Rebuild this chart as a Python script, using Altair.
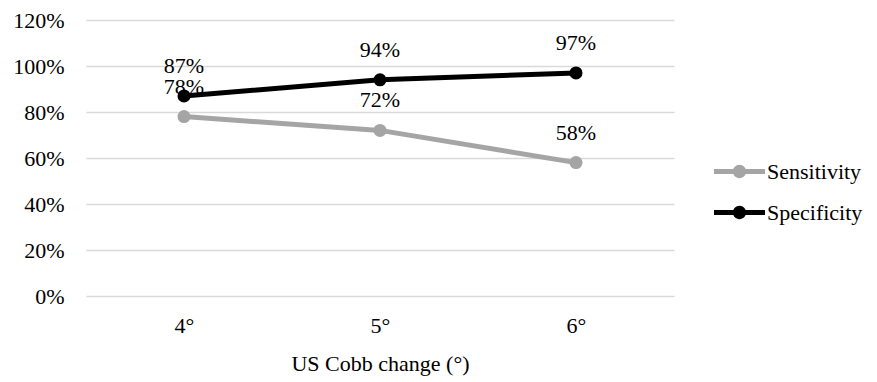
import altair as alt
import pandas as pd

# Cobb angle change thresholds and diagnostic performance
thresholds = ["4°", "5°", "6°"]
sensitivity = [0.78, 0.72, 0.58]
specificity = [0.87, 0.94, 0.97]
series_names = ["Sensitivity", "Specificity"]
series_colors = ["#A5A5A5", "#000000"]

rows = []
for name, values in zip(series_names, [sensitivity, specificity]):
    for t, v in zip(thresholds, values):
        rows.append({"threshold": t, "value": v, "series": name})
df = pd.DataFrame(rows)

FONT = "'Liberation Serif', 'Times New Roman', Times, serif"
FS = 22

x = alt.X(
    "threshold:N",
    sort=thresholds,
    scale=alt.Scale(type="point", padding=0.5),
    axis=alt.Axis(
        title="US Cobb change (°)",
        labelAngle=0,
        domain=False,
        ticks=False,
        grid=False,
        labelPadding=19,
        titlePadding=17,
    ),
)
y = alt.Y(
    "value:Q",
    scale=alt.Scale(domain=[0, 1.2]),
    axis=alt.Axis(
        title=None,
        format=".0%",
        values=[0, 0.2, 0.4, 0.6, 0.8, 1.0, 1.2],
        domain=False,
        ticks=False,
        labelPadding=22,
        gridColor="#D9D9D9",
        gridWidth=1.5,
    ),
)
color = alt.Color(
    "series:N",
    scale=alt.Scale(domain=series_names, range=series_colors),
    legend=alt.Legend(
        title=None,
        orient="none",
        legendX=628,
        legendY=126,
        symbolType="M-1,-0.1 L1,-0.1 L1,0.1 L-1,0.1 Z M0.26,0 A0.26,0.26 0 1,1 -0.26,0 A0.26,0.26 0 1,1 0.26,0 Z",
        symbolSize=2600,
        symbolStrokeWidth=0,
        rowPadding=4,
        labelOffset=2,
    ),
)


def series_layers(name):
    d = df[df["series"] == name]
    base = alt.Chart(d).encode(x=x, y=y, color=color)
    pts = base.mark_point(filled=True, size=170, opacity=1)
    line = base.mark_line(strokeWidth=5)
    labels = alt.Chart(d).mark_text(
        dy=-30, font=FONT, fontSize=FS, color="#000000"
    ).encode(x=x, y=y, text=alt.Text("value:Q", format=".0%"))
    return pts, line, labels


sp, sl, st = series_layers("Sensitivity")
cp, cl, ct = series_layers("Specificity")

chart = (
    alt.layer(sp, sl, st, cl, cp, ct)
    .properties(
        width=588,
        height=276,
        autosize=alt.AutoSizeParams(type="none"),
        padding={"left": 86, "top": 20, "right": 203, "bottom": 86},
    )
    .configure_view(stroke=None)
    .configure_axis(
        labelFont=FONT,
        titleFont=FONT,
        labelFontSize=FS,
        titleFontSize=FS,
        labelColor="#000000",
        titleColor="#000000",
        titleFontWeight="normal",
    )
    .configure_legend(labelFont=FONT, labelFontSize=FS, labelColor="#000000")
)

chart.save("out.html", embed_options={"renderer": "svg", "actions": False})
